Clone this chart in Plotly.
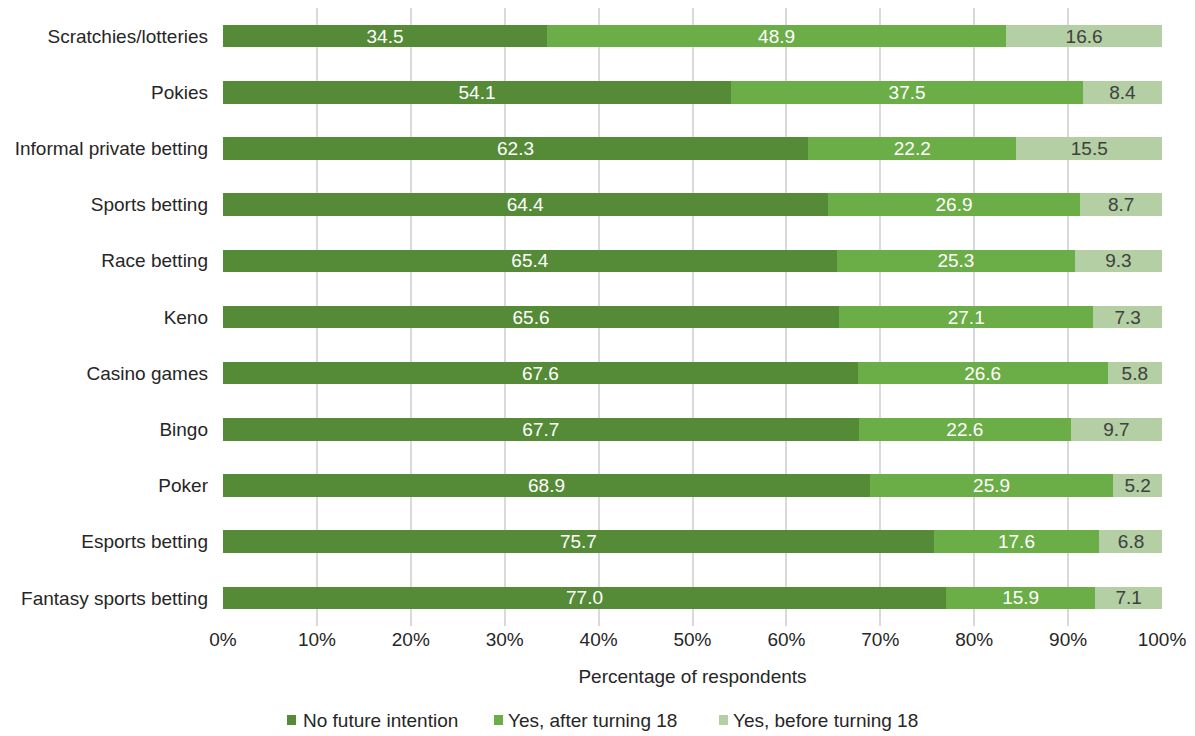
import plotly.graph_objects as go

categories = ["Scratchies/lotteries", "Pokies", "Informal private betting", "Sports betting",
              "Race betting", "Keno", "Casino games", "Bingo", "Poker", "Esports betting",
              "Fantasy sports betting"]
no_future = [34.5, 54.1, 62.3, 64.4, 65.4, 65.6, 67.6, 67.7, 68.9, 75.7, 77.0]
after_18 = [48.9, 37.5, 22.2, 26.9, 25.3, 27.1, 26.6, 22.6, 25.9, 17.6, 15.9]
before_18 = [16.6, 8.4, 15.5, 8.7, 9.3, 7.3, 5.8, 9.7, 5.2, 6.8, 7.1]
series_names = ["No future intention", "Yes, after turning 18", "Yes, before turning 18"]
tick_vals = [0, 10, 20, 30, 40, 50, 60, 70, 80, 90, 100]
tick_text = [f"{v}%" for v in tick_vals]

colors = ["#558b37", "#6bad47", "#b3cfa3"]
text_colors = ["white", "white", "#404040"]
FONT = "Liberation Sans"

# plot area in page pixels (page has an 8px body offset)
PX0, PX1, PY0, PY1 = 223, 1162, 8, 626


def px_x(p):
    return (p - PX0) / (PX1 - PX0)


def px_y(p):
    return (PY1 - p) / (PY1 - PY0)


fig = go.Figure()
for name, vals, c, tc in zip(series_names, [no_future, after_18, before_18], colors, text_colors):
    fig.add_trace(go.Bar(
        y=categories, x=vals, name=name, orientation="h",
        marker=dict(color=c, line=dict(width=0)),
        text=[f"{v:.1f}" for v in vals], textposition="inside",
        insidetextanchor="middle", textangle=0,
        textfont=dict(color=tc, size=19, family=FONT),
        constraintext="none", showlegend=False,
    ))

# manual legend
legend_marker_x = [287, 494, 719]
legend_text_x = [302, 507, 732]
for name, c, mx, tx in zip(series_names, colors, legend_marker_x, legend_text_x):
    fig.add_shape(type="rect", xref="paper", yref="paper",
                  x0=px_x(mx), x1=px_x(mx + 9), y0=px_y(725), y1=px_y(715),
                  fillcolor=c, line=dict(width=0))
    fig.add_annotation(xref="paper", yref="paper", x=px_x(tx - 1), y=px_y(720),
                       xanchor="left", yanchor="middle", text=name, showarrow=False,
                       font=dict(size=19, family=FONT, color="#262626"))

fig.update_layout(
    barmode="stack", bargap=0.6,
    width=1187, height=728,
    margin=dict(l=215, r=33, t=0, b=110, autoexpand=False),
    plot_bgcolor="white", paper_bgcolor="white",
    font=dict(family=FONT, size=19, color="#262626"),
    showlegend=False,
)
fig.update_xaxes(range=[0, 100], tickvals=tick_vals, ticktext=tick_text,
                 showgrid=True, gridcolor="#d9d9d9", gridwidth=2, zeroline=False,
                 showline=False, ticks="", tickfont=dict(size=19),
                 title=dict(text="Percentage of respondents", font=dict(size=19), standoff=20))
fig.update_yaxes(autorange="reversed", showgrid=False, ticks="", ticklen=0,
                 tickfont=dict(size=19), showline=False, ticklabelstandoff=14)

fig.write_html("out.html")
